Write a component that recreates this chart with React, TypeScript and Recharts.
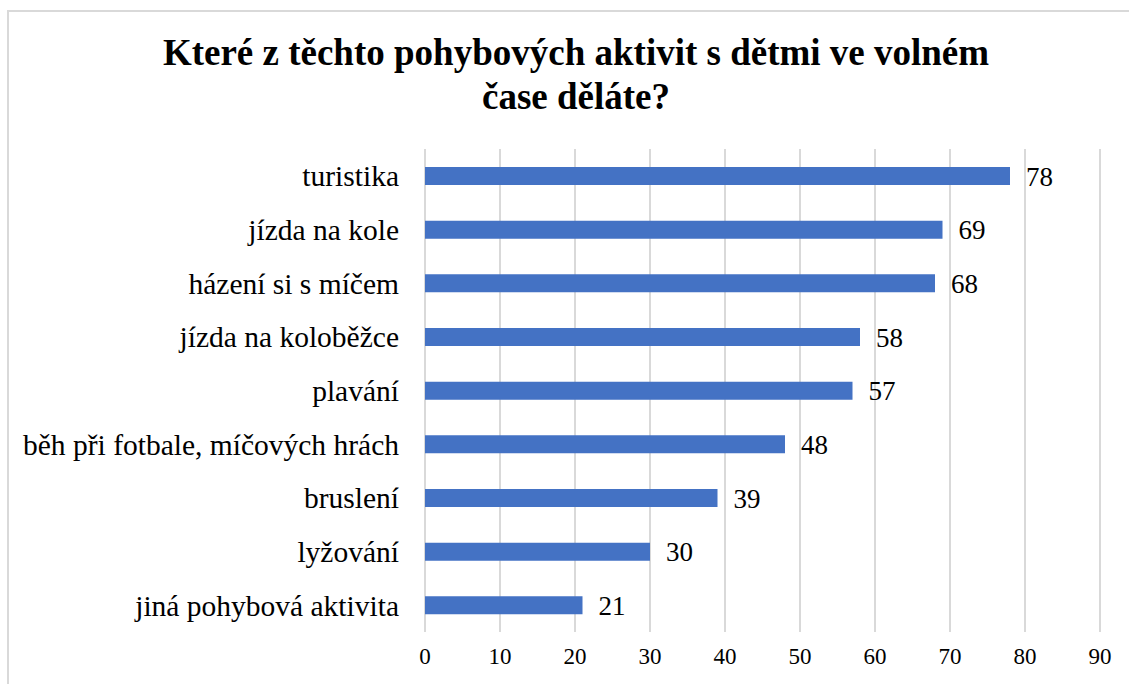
import { BarChart, Bar, XAxis, YAxis, CartesianGrid, LabelList } from "recharts";

const categories = [
  "turistika",
  "jízda na kole",
  "házení si s míčem",
  "jízda na koloběžce",
  "plavání",
  "běh při fotbale, míčových hrách",
  "bruslení",
  "lyžování",
  "jiná pohybová aktivita",
];
const counts = [78, 69, 68, 58, 57, 48, 39, 30, 21];
const xTicks = [0, 10, 20, 30, 40, 50, 60, 70, 80, 90];

const BLUE = "#4472C4";
const GRID = "#d9d9d9";
const FONT = "Liberation Serif";

export default function App() {
  const data = categories.map((name, i) => ({ name, value: counts[i] }));

  return (
    <div style={{ position: "absolute", left: 0, top: 0, width: 1129, height: 684, background: "#fff", overflow: "hidden" }}>
      {/* chart frame, its right and bottom edges run off the picture */}
      <div
        style={{
          position: "absolute",
          left: 7,
          top: 10,
          width: 1140,
          height: 700,
          border: `2px solid ${GRID}`,
          boxSizing: "border-box",
        }}
      />
      <div
        style={{
          position: "absolute",
          left: 0,
          top: 31,
          width: 1152,
          textAlign: "center",
          fontFamily: FONT,
          fontWeight: "bold",
          fontSize: 37,
          lineHeight: "44px",
          color: "#000",
        }}
      >
        Které z těchto pohybových aktivit s dětmi ve volném
        <br />
        čase děláte?
      </div>
      <div style={{ position: "absolute", left: 0, top: 0 }}>
        <BarChart
          width={1129}
          height={684}
          data={data}
          layout="vertical"
          margin={{ top: 149, right: 29, bottom: 0, left: 0 }}
        >
          <CartesianGrid horizontal={false} stroke={GRID} strokeWidth={2} />
          <XAxis
            type="number"
            domain={[0, 90]}
            ticks={xTicks}
            height={52}
            axisLine={false}
            tickLine={false}
            tickMargin={10}
            tick={{ fill: "#000", fontSize: 23, fontFamily: FONT }}
          />
          <YAxis
            type="category"
            dataKey="name"
            width={425}
            axisLine={false}
            tickLine={false}
            tickMargin={20}
            tick={{ fill: "#000", fontSize: 29.5, fontFamily: FONT }}
          />
          <Bar dataKey="value" fill={BLUE} barSize={18} isAnimationActive={false}>
            <LabelList
              dataKey="value"
              position="right"
              offset={16}
              style={{ fill: "#000", fontSize: 27, fontFamily: FONT }}
            />
          </Bar>
        </BarChart>
      </div>
    </div>
  );
}
